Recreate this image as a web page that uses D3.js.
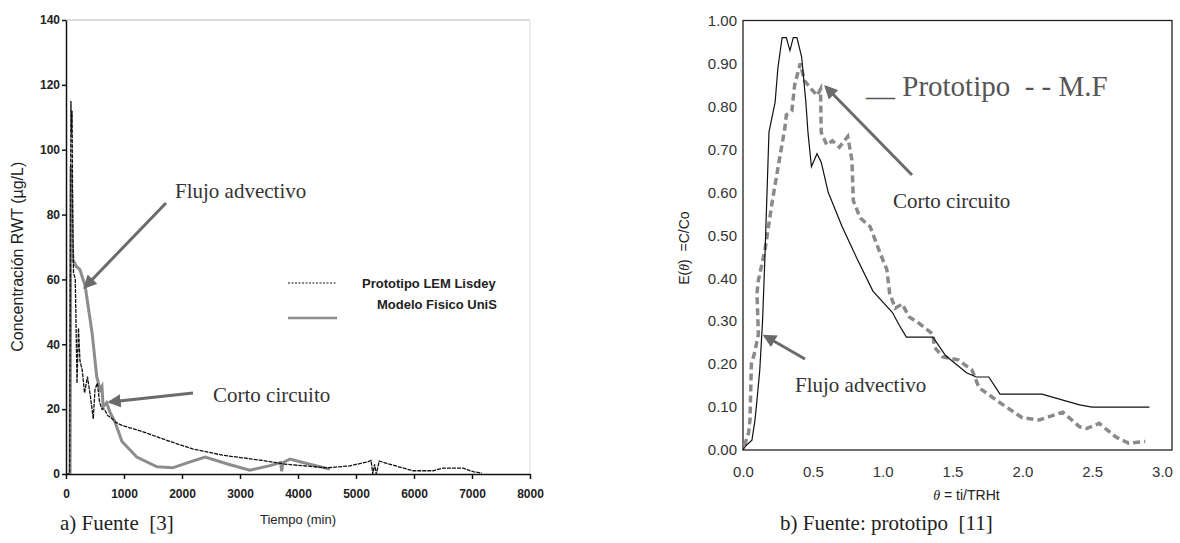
<!DOCTYPE html>
<html>
<head>
<meta charset="utf-8">
<script src="https://cdn.jsdelivr.net/npm/d3@7"></script>
<style>
  body { margin: 0; background: #fff; }
  svg { display: block; }
  .sans { font-family: Arial, "Liberation Sans", sans-serif; }
  .serif { font-family: "Times New Roman", "Liberation Serif", serif; white-space: pre; }
</style>
</head>
<body>
<div id="chart"></div>
<script>
// Panel a) - concentracion RWT vs tiempo (min)
const aTicksX = [0, 1000, 2000, 3000, 4000, 5000, 6000, 7000, 8000];
const aTicksY = [0, 20, 40, 60, 80, 100, 120, 140];
const aProtoT = [0, 50, 62, 75, 85, 95, 105, 115, 130, 160, 190, 215, 240, 280, 320, 370, 420, 470, 500, 540, 580, 620, 660, 720, 800, 850, 965, 1330, 1800, 2190, 2700, 3340, 3800, 4500, 4890, 5210, 5260, 5290, 5320, 5350, 5400, 5450, 5700, 5980, 6330, 6500, 6850, 7020, 7170];
const aProtoC = [0, 0, 0, 60, 115, 105, 112, 80, 62, 60, 28, 45, 35, 32, 25, 30, 24, 17, 26, 28, 22, 20, 20, 18, 17, 16, 15, 13, 10, 7.7, 5.8, 4.3, 3, 1.9, 2.5, 3.8, 4.2, 0, 3, 0, 4, 3.7, 2.4, 1, 1, 1.8, 1.8, 0.7, 0.3];
const aModelT = [70, 85, 100, 110, 120, 180, 240, 330, 450, 530, 590, 620, 640, 700, 760, 845, 965, 1220, 1570, 1840, 2100, 2400, 2800, 3170, 3500, 3700, 3720, 3740, 3860, 4200, 4550];
const aModelC = [0, 95, 85, 70, 66, 64, 63, 58, 43.5, 30, 26, 27, 20.7, 22, 19, 16, 10, 5.2, 2.2, 1.9, 3.5, 5.2, 3, 1.2, 2.5, 3.5, 0.8, 3.5, 4.6, 3, 1.5];

// Panel b) - E(theta) vs theta
const bTicksX = [0, 0.5, 1.0, 1.5, 2.0, 2.5, 3.0];
const bTicksY = [0, 0.1, 0.2, 0.3, 0.4, 0.5, 0.6, 0.7, 0.8, 0.9, 1.0];
const bProtoTh = [0, 0.02, 0.064, 0.086, 0.1, 0.12, 0.14, 0.157, 0.17, 0.186, 0.23, 0.25, 0.28, 0.31, 0.336, 0.36, 0.386, 0.42, 0.45, 0.465, 0.49, 0.53, 0.56, 0.61, 0.71, 0.81, 0.93, 1.07, 1.12, 1.17, 1.36, 1.45, 1.6, 1.67, 1.76, 1.84, 2.14, 2.41, 2.5, 2.91];
const bProtoE = [0, 0.01, 0.023, 0.07, 0.116, 0.186, 0.3, 0.45, 0.58, 0.74, 0.81, 0.89, 0.96, 0.96, 0.93, 0.96, 0.96, 0.915, 0.81, 0.74, 0.66, 0.69, 0.67, 0.6, 0.52, 0.45, 0.37, 0.32, 0.29, 0.263, 0.263, 0.22, 0.18, 0.17, 0.17, 0.13, 0.13, 0.105, 0.1, 0.1];
const bModelTh = [0.01, 0.04, 0.05, 0.06, 0.086, 0.11, 0.10, 0.11, 0.14, 0.157, 0.21, 0.26, 0.30, 0.31, 0.35, 0.37, 0.41, 0.44, 0.49, 0.53, 0.555, 0.56, 0.60, 0.64, 0.69, 0.75, 0.78, 0.79, 0.84, 0.91, 0.98, 1.03, 1.05, 1.09, 1.14, 1.19, 1.26, 1.36, 1.37, 1.43, 1.54, 1.64, 1.69, 1.84, 2.0, 2.12, 2.29, 2.41, 2.46, 2.55, 2.67, 2.76, 2.88];
const bModelE = [0.01, 0.04, 0.07, 0.2, 0.23, 0.27, 0.365, 0.395, 0.44, 0.465, 0.58, 0.675, 0.75, 0.78, 0.79, 0.85, 0.9, 0.86, 0.84, 0.825, 0.84, 0.74, 0.71, 0.72, 0.705, 0.73, 0.675, 0.58, 0.54, 0.52, 0.46, 0.42, 0.365, 0.33, 0.34, 0.31, 0.295, 0.27, 0.24, 0.217, 0.21, 0.186, 0.145, 0.11, 0.075, 0.07, 0.088, 0.054, 0.05, 0.062, 0.03, 0.016, 0.02];

const svg = d3.select("#chart").append("svg")
  .attr("width", 1180)
  .attr("height", 543);

// arrow head
svg.append("defs").append("marker")
  .attr("id", "head")
  .attr("viewBox", "0 0 10 10")
  .attr("refX", 8).attr("refY", 5)
  .attr("markerWidth", 4.5).attr("markerHeight", 4.5)
  .attr("orient", "auto")
  .append("path")
    .attr("d", "M0,0 L10,5 L0,10 z")
    .attr("fill", "#6b6b6b");

function arrow(x1, y1, x2, y2) {
  svg.append("line")
    .attr("x1", x1).attr("y1", y1).attr("x2", x2).attr("y2", y2)
    .attr("stroke", "#6b6b6b")
    .attr("stroke-width", 3)
    .attr("marker-end", "url(#head)");
}

// ---------- panel a ----------
const xa = d3.scaleLinear().domain([0, 8000]).range([66, 530]);
const ya = d3.scaleLinear().domain([0, 140]).range([474, 20]);

// light frame top / right
svg.append("line").attr("x1", xa(0)).attr("x2", xa(8000)).attr("y1", ya(140)).attr("y2", ya(140))
  .attr("stroke", "#cfcfcf").attr("stroke-width", 1.5);
svg.append("line").attr("x1", xa(8000)).attr("x2", xa(8000)).attr("y1", ya(140)).attr("y2", ya(0))
  .attr("stroke", "#dcdcdc").attr("stroke-width", 1);

const axA = svg.append("g")
  .attr("transform", "translate(0," + ya(0) + ")")
  .call(d3.axisBottom(xa).tickValues(aTicksX).tickFormat(d3.format("d"))
    .tickSize(5).tickPadding(10).tickSizeOuter(0));
const ayA = svg.append("g")
  .attr("transform", "translate(" + xa(0) + ",0)")
  .call(d3.axisLeft(ya).tickValues(aTicksY).tickSize(4).tickPadding(2).tickSizeOuter(0));
[axA, ayA].forEach(g => {
  g.selectAll("text").attr("font-size", 12).attr("font-weight", "bold").attr("fill", "#222")
    .attr("font-family", "Arial, 'Liberation Sans', sans-serif");
  g.selectAll("line, path").attr("stroke", "#111").attr("stroke-width", 1.5);
});

const lineA = d3.line().x(d => xa(d[0])).y(d => ya(d[1]));
svg.append("path")
  .datum(d3.zip(aModelT, aModelC))
  .attr("d", lineA)
  .attr("fill", "none").attr("stroke", "#8c8c8c").attr("stroke-width", 3);
svg.append("path")
  .datum(d3.zip(aProtoT, aProtoC))
  .attr("d", lineA)
  .attr("fill", "none").attr("stroke", "#111").attr("stroke-width", 1.3)
  .attr("stroke-dasharray", "4,1");

svg.append("text").attr("class", "sans")
  .attr("transform", "translate(23," + ya(67) + ") rotate(-90)")
  .attr("text-anchor", "middle").attr("font-size", 16).attr("fill", "#222")
  .text("Concentración RWT (µg/L)");
svg.append("text").attr("class", "sans")
  .attr("x", xa(4000)).attr("y", 524).attr("text-anchor", "middle")
  .attr("font-size", 13).attr("fill", "#222").text("Tiempo (min)");
svg.append("text").attr("class", "serif")
  .attr("x", 60).attr("y", 530).attr("font-size", 21).attr("fill", "#222")
  .text("a) Fuente  [3]");

// legend a
svg.append("line").attr("x1", 288).attr("x2", 337).attr("y1", 283).attr("y2", 283)
  .attr("stroke", "#111").attr("stroke-width", 1.2).attr("stroke-dasharray", "2,1.5");
svg.append("line").attr("x1", 288).attr("x2", 337).attr("y1", 318).attr("y2", 318)
  .attr("stroke", "#8c8c8c").attr("stroke-width", 2.5);
svg.append("text").attr("class", "sans").attr("x", 362).attr("y", 288)
  .attr("font-size", 13).attr("font-weight", "bold").attr("fill", "#222").text("Prototipo LEM Lisdey");
svg.append("text").attr("class", "sans").attr("x", 377).attr("y", 309)
  .attr("font-size", 13).attr("font-weight", "bold").attr("fill", "#222").text("Modelo Fisico UniS");

// annotations a
svg.append("text").attr("class", "serif").attr("x", 175).attr("y", 198)
  .attr("font-size", 21).attr("fill", "#333").text("Flujo advectivo");
arrow(166, 203, 85, 287);
svg.append("text").attr("class", "serif").attr("x", 213).attr("y", 402)
  .attr("font-size", 21).attr("fill", "#333").text("Corto circuito");
arrow(193, 393, 110, 402);

// ---------- panel b ----------
const xb = d3.scaleLinear().domain([0, 3.0]).range([743, 1162]);
const yb = d3.scaleLinear().domain([0, 1]).range([450, 20.5]);

svg.append("rect").attr("x", 743).attr("y", yb(1)).attr("width", 1172 - 743).attr("height", yb(0) - yb(1))
  .attr("fill", "none").attr("stroke", "#222").attr("stroke-width", 1.3);

const axB = svg.append("g")
  .attr("transform", "translate(0," + yb(0) + ")")
  .call(d3.axisBottom(xb).tickValues(bTicksX).tickSize(0).tickPadding(16).tickFormat(d3.format(".1f")));
const ayB = svg.append("g")
  .attr("transform", "translate(743,0)")
  .call(d3.axisLeft(yb).tickValues(bTicksY).tickSize(0).tickPadding(6).tickFormat(d3.format(".2f")));
[axB, ayB].forEach(g => {
  g.select(".domain").remove();
  g.selectAll("text").attr("font-size", 15).attr("fill", "#333")
    .attr("font-family", "Arial, 'Liberation Sans', sans-serif");
});

const lineB = d3.line().x(d => xb(d[0])).y(d => yb(d[1]));
svg.append("path")
  .datum(d3.zip(bModelTh, bModelE))
  .attr("d", lineB)
  .attr("fill", "none").attr("stroke", "#8a8a8a").attr("stroke-width", 3.5)
  .attr("stroke-dasharray", "7,4");
svg.append("path")
  .datum(d3.zip(bProtoTh, bProtoE))
  .attr("d", lineB)
  .attr("fill", "none").attr("stroke", "#111").attr("stroke-width", 1.2);

const yLab = svg.append("text").attr("class", "sans")
  .attr("transform", "translate(689," + yb(0.47) + ") rotate(-90)")
  .attr("text-anchor", "middle").attr("font-size", 14).attr("fill", "#222")
  .style("white-space", "pre");
yLab.append("tspan").text("E(");
yLab.append("tspan").attr("font-style", "italic").attr("font-family", "'Liberation Serif', serif").text("θ");
yLab.append("tspan").text(")  =C/Co");

const xLab = svg.append("text").attr("class", "sans")
  .attr("x", xb(1.6)).attr("y", 500).attr("text-anchor", "middle")
  .attr("font-size", 14).attr("fill", "#222");
xLab.append("tspan").attr("font-style", "italic").attr("font-family", "'Liberation Serif', serif").text("θ");
xLab.append("tspan").text(" = ti/TRHt");

svg.append("text").attr("class", "serif")
  .attr("x", 780).attr("y", 530).attr("font-size", 21).attr("fill", "#222")
  .text("b) Fuente: prototipo  [11]");

// legend b
svg.append("text").attr("class", "serif").attr("x", 866).attr("y", 96)
  .attr("font-size", 29).attr("fill", "#555")
  .text("__ Prototipo  - - M.F");

// annotations b
svg.append("text").attr("class", "serif").attr("x", 893).attr("y", 208)
  .attr("font-size", 21).attr("fill", "#333").text("Corto circuito");
arrow(912, 175, 826, 87);
svg.append("text").attr("class", "serif").attr("x", 795).attr("y", 392)
  .attr("font-size", 21).attr("fill", "#333").text("Flujo advectivo");
arrow(805, 359, 765, 336);
</script>
</body>
</html>
